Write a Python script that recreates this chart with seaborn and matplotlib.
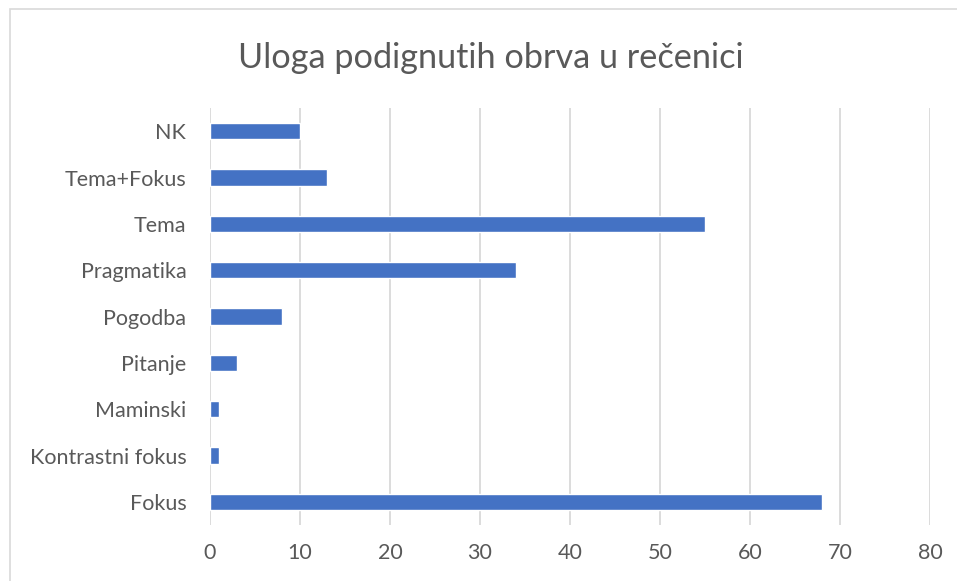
import pandas as pd
import matplotlib.pyplot as plt
import seaborn as sns
from matplotlib.patches import Rectangle

# categories top to bottom, as in the chart
categories = ["NK", "Tema+Fokus", "Tema", "Pragmatika", "Pogodba",
              "Pitanje", "Maminski", "Kontrastni fokus", "Fokus"]
values = [10, 13, 55, 34, 8, 3, 1, 1, 68]
xticks = [0, 10, 20, 30, 40, 50, 60, 70, 80]

df = pd.DataFrame({"Uloga": categories, "Broj": values})

sns.set_style("white")
plt.rcParams["font.family"] = ["Lato", "DejaVu Sans"]

text_col = "#595959"
fig = plt.figure(figsize=(9.57, 5.81), dpi=100)
ax = fig.add_axes([0.2194, 0.0964, 0.7524, 0.7176])

sns.barplot(data=df, x="Broj", y="Uloga", order=categories, color="#4472C4",
            width=0.35, saturation=1, ax=ax)

ax.set_xlim(0, 80)
ax.set_xticks(xticks)
ax.xaxis.grid(True, color="#D9D9D9", linewidth=1.3)
ax.set_axisbelow(True)
for s in ax.spines.values():
    s.set_visible(False)
ax.set_xlabel("")
ax.set_ylabel("")
ax.tick_params(axis="both", length=0, labelsize=15.5, labelcolor=text_col)
ax.tick_params(axis="x", pad=13)
ax.tick_params(axis="y", pad=17)

fig.text(0.513, 0.9, "Uloga podignutih obrva u rečenici", ha="center",
         va="center", fontsize=24.7, color=text_col)

# chart area border
fig.patches.append(Rectangle((10 / 957, -0.1), 1.2, 1 - 9 / 581 + 0.1,
                             transform=fig.transFigure, fill=False,
                             edgecolor="#D9D9D9", linewidth=1.2))

fig.savefig("out.png", dpi=100)
